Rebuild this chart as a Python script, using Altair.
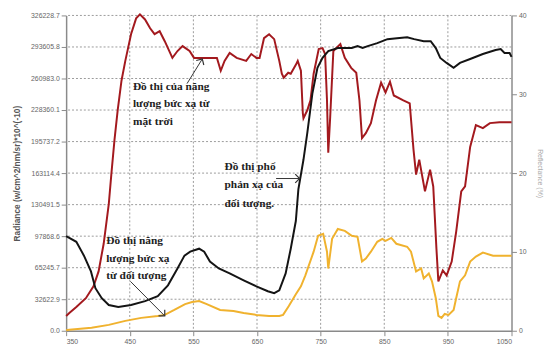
import altair as alt
import pandas as pd

# ---- data ----
red_x = [350, 355, 366, 381, 393, 401, 409, 417, 421, 426, 431, 437, 443, 448, 452, 460, 466, 474, 482, 489, 497, 505, 517, 525, 533, 544, 551, 561, 571, 587, 593, 599, 607, 618, 633, 641, 649, 654, 661, 669, 677, 685, 689, 692, 699, 703, 711, 714, 719, 722, 723, 729, 734, 739, 747, 753, 757, 760, 762, 765, 770, 781, 788, 798, 806, 811, 815, 821, 829, 837, 845, 852, 859, 865, 880, 890, 896, 900, 905, 914, 922, 927, 932, 935, 942, 948, 956, 963, 971, 977, 985, 994, 1005, 1016, 1031, 1050]
red_v = [15300, 18400, 24500, 33700, 46000, 61400, 90000, 130900, 161600, 197400, 228100, 258700, 279200, 294500, 306800, 323200, 327300, 322100, 312900, 306800, 309900, 299600, 282300, 289400, 294500, 289400, 282300, 282300, 282300, 282300, 269000, 279200, 287400, 282300, 279200, 286300, 282300, 282300, 302700, 306800, 301700, 279200, 265900, 261800, 266900, 265900, 275100, 279200, 269000, 225000, 219900, 228100, 238300, 265900, 291500, 292500, 286300, 238300, 184100, 220900, 289400, 296600, 282300, 272000, 266900, 238300, 199400, 204500, 214800, 238300, 256700, 246500, 257700, 243400, 238300, 235200, 187100, 161600, 176900, 144200, 166700, 149300, 84900, 51100, 62400, 57300, 71600, 102300, 144200, 149300, 190200, 212700, 209600, 214800, 215800, 215800]

black_x = [350, 366, 378, 389, 396, 406, 417, 432, 452, 474, 494, 510, 525, 536, 545, 559, 567, 576, 590, 607, 629, 649, 667, 677, 685, 695, 703, 711, 715, 723, 729, 737, 745, 753, 762, 777, 799, 808, 816, 824, 839, 855, 870, 886, 897, 912, 923, 931, 938, 948, 959, 969, 985, 1005, 1025, 1033, 1039, 1047, 1050]
black_v = [97900, 92000, 77700, 61400, 44000, 33700, 26600, 24500, 26600, 30700, 35800, 47000, 64400, 77700, 81800, 84900, 81800, 71600, 64400, 59300, 52200, 46000, 40900, 38900, 41900, 59300, 84900, 113500, 146200, 176900, 204500, 245400, 272000, 282300, 289400, 292500, 292500, 294500, 292500, 294500, 297600, 301700, 302700, 303700, 301700, 299600, 299600, 292500, 282300, 277100, 272000, 277100, 281200, 286300, 290400, 291500, 287400, 287400, 283300]

yellow_x = [350, 355, 390, 417, 443, 468, 494, 505, 520, 537, 548, 559, 571, 592, 613, 629, 649, 669, 685, 691, 700, 711, 719, 726, 739, 746, 754, 760, 762, 768, 777, 788, 799, 808, 815, 821, 829, 839, 847, 852, 861, 869, 886, 892, 900, 908, 912, 920, 925, 931, 935, 940, 945, 951, 959, 963, 969, 977, 985, 994, 1005, 1021, 1050]
yellow_v = [500, 1000, 3100, 6100, 10200, 13300, 15300, 16400, 21500, 27600, 29700, 30700, 27600, 21500, 20500, 18400, 16400, 15300, 15300, 16400, 25600, 37800, 46000, 57300, 81800, 98200, 100200, 81800, 64400, 95100, 105300, 103300, 98200, 97200, 71600, 74700, 81800, 92000, 95100, 93100, 96100, 90000, 86900, 81800, 61400, 64400, 54200, 59300, 51100, 33700, 15300, 13300, 17400, 16400, 21500, 33700, 51100, 57300, 71600, 76700, 80800, 77700, 77700]

left_ticks = [0.0, 32622.9, 65245.7, 97868.6, 130491.5, 163114.4, 195737.2, 228360.1, 260983.0, 293605.8, 326228.7]
right_ticks = [0, 10, 20, 30, 40]
x_ticks = [350, 450, 550, 650, 750, 850, 950, 1050]

# annotation texts (one row per line)
note_text = ["Đồ thị của năng", "lượng bức xạ từ", "mặt trời",
             "Đồ thị phổ", "phản xạ của", "đối tượng.",
             "Đồ thị năng", "lượng bức xạ", "từ đối tượng"]
note_x = [455, 455, 455, 599, 599, 599, 413, 413, 413]
note_v = [252600, 234200, 215800, 169800, 150300, 130900, 93100, 74700, 56200]

# arrows: start -> end
arr_x1 = [540, 680, 451]
arr_v1 = [255700, 157500, 51100]
arr_x2 = [564, 717, 505]
arr_v2 = [281200, 157500, 15300]
arr_angle = [31, 90, 135]

# ---- tables ----
lines = pd.concat([
    pd.DataFrame({"series": "sun", "x": red_x, "v": red_v}),
    pd.DataFrame({"series": "refl", "x": black_x, "v": black_v}),
    pd.DataFrame({"series": "obj", "x": yellow_x, "v": yellow_v}),
], ignore_index=True)
notes = pd.DataFrame({"t": note_text, "x": note_x, "v": note_v})
arrows = pd.DataFrame({"x1": arr_x1, "v1": arr_v1, "x2": arr_x2, "v2": arr_v2, "a": arr_angle})
hgrid = pd.DataFrame({"v": left_ticks[1:]})
vgrid = pd.DataFrame({"x": x_ticks[1:-1]})

XMAX = 1050
YMAX = 326228.7
xs = alt.Scale(domain=[350, XMAX], nice=False, zero=False)
ys = alt.Scale(domain=[0, YMAX], nice=False, zero=False)

xaxis = alt.Axis(values=x_ticks, title=None, grid=False, domainColor="#8a8a8a", domainWidth=1.5,
                 tickColor="#8a8a8a", tickSize=5, labelFontSize=7, labelColor="#666666",
                 labelFont="Liberation Sans", labelPadding=2, format="d", labelOverlap=False)
yaxis = alt.Axis(values=left_ticks, title="Radiance (w/cm^2/nm/sr)*10^(-10)", format=".1f",
                 grid=False, domainColor="#8a8a8a", domainWidth=1.5, tickColor="#8a8a8a", tickSize=5,
                 labelFontSize=7, labelColor="#666666", labelFont="Liberation Sans", labelPadding=2,
                 labelOverlap=False, labelFlush=False,
                 titleFontSize=8.5, titleFont="Liberation Sans", titleFontWeight="bold",
                 titleColor="#555555", titlePadding=9)

hgrid_layer = alt.Chart(hgrid).mark_rule(color="#9a9a9a", strokeDash=[2, 2], strokeWidth=1).encode(
    y=alt.Y("v:Q", scale=ys, axis=yaxis))
vgrid_layer = alt.Chart(vgrid).mark_rule(color="#9a9a9a", strokeDash=[2, 2], strokeWidth=1).encode(
    x=alt.X("x:Q", scale=xs, axis=xaxis))

line_layer = alt.Chart(lines).mark_line(strokeWidth=2).encode(
    x=alt.X("x:Q", scale=xs, axis=xaxis),
    y=alt.Y("v:Q", scale=ys, axis=yaxis),
    color=alt.Color("series:N", scale=alt.Scale(domain=["sun", "refl", "obj"],
                                                range=["#a3191e", "#141414", "#f0b22e"]),
                    legend=None),
    detail="series:N",
)

text_layer = alt.Chart(notes).mark_text(align="left", baseline="middle", font="Liberation Serif",
                                        fontWeight="bold", fontSize=11.5, color="#222222").encode(
    x=alt.X("x:Q", scale=xs, axis=xaxis), y=alt.Y("v:Q", scale=ys, axis=yaxis), text="t:N")

rule_layer = alt.Chart(arrows).mark_rule(color="#333333", strokeWidth=1).encode(
    x=alt.X("x1:Q", scale=xs, axis=xaxis), y=alt.Y("v1:Q", scale=ys, axis=yaxis), x2="x2:Q", y2="v2:Q")

head_layer = alt.Chart(arrows).mark_point(shape="M -1 1 L 0 0 L 1 1", filled=False, color="#333333",
                                          strokeWidth=1.2, size=80, opacity=1).encode(
    x=alt.X("x2:Q", scale=xs, axis=xaxis), y=alt.Y("v2:Q", scale=ys, axis=yaxis),
    angle=alt.Angle("a:Q", scale=None))

left = alt.layer(hgrid_layer, vgrid_layer, line_layer, rule_layer, head_layer, text_layer)

right = alt.Chart(pd.DataFrame({"r": right_ticks})).mark_point(opacity=0).encode(
    y=alt.Y("r:Q", scale=alt.Scale(domain=[0, 40], nice=False),
            axis=alt.Axis(orient="right", values=right_ticks, grid=False, title="Reflectance (%)",
                          domainColor="#8a8a8a", domainWidth=1.5, tickColor="#8a8a8a", tickSize=5,
                          labelFontSize=7, labelColor="#666666", labelFont="Liberation Sans",
                          labelPadding=2, labelOverlap=False, titleFontSize=7, titleColor="#aaaaaa",
                          titleFontWeight="normal", titlePadding=11)))

chart = alt.layer(left, right).resolve_scale(y="independent").properties(
    width=452, height=320,
    padding={"left": 59, "top": 5, "right": 35, "bottom": 18},
    autosize=alt.AutoSizeParams(type="none"),
).configure_view(stroke=None).configure_axis(labelOverlap=False)

chart.save("out.html", embed_options={"renderer": "svg", "actions": False})
